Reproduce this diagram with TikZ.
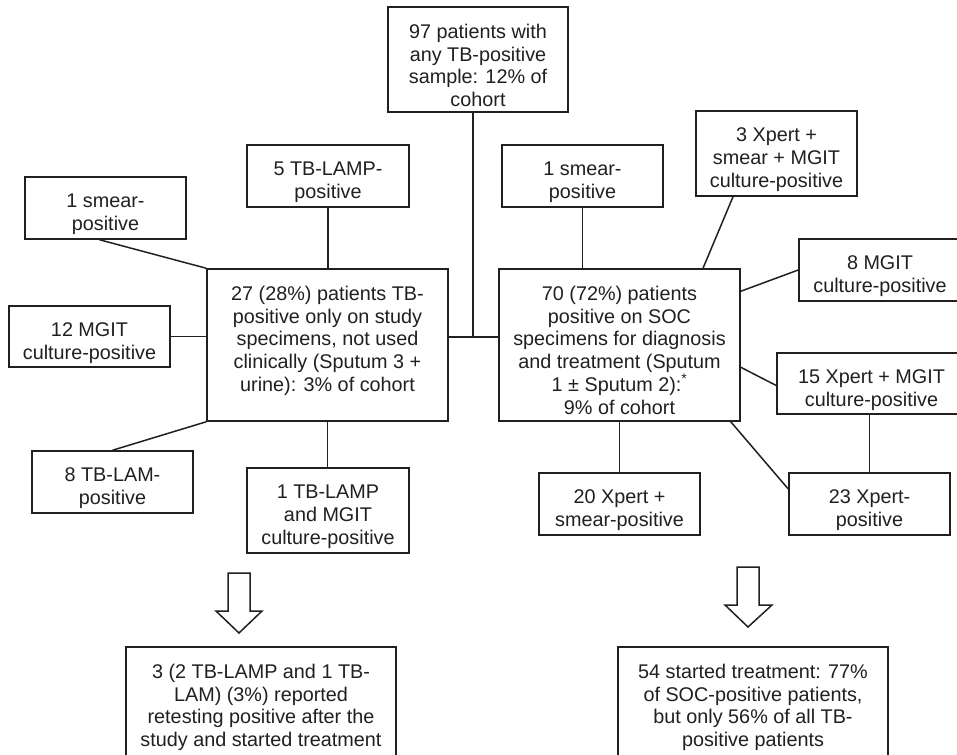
\documentclass[tikz,border=0pt]{standalone}
\usepackage{fontspec}
\setmainfont{Liberation Sans}
\usetikzlibrary{fit}
\definecolor{lc}{RGB}{35,31,32}
\newcommand\mybox[6]{%
  \node[box, fit={(#2,#3) (#4,#5)}] (#1) {};
  \node[txt] (#1-lbl) at ([yshift=-17.7pt]#1.north) {#6};}
\begin{document}
\begin{tikzpicture}[x=1pt,y=-1pt,
  box/.style={draw=lc, line width=1.5pt, inner sep=0pt, fill=white},
  txt/.style={font=\fontsize{19.8}{22.7}\selectfont, align=center, inner sep=0pt, text=lc, anchor=north},
  conn/.style={draw=lc, line width=1.5pt},
  blockarrow/.style={draw=lc, line width=1.5pt, fill=white, line join=miter}]
\useasboundingbox (0,0) rectangle (957,754);
\clip (0,0) rectangle (957,754);
\fill[white] (0,0) rectangle (957,754);

% boxes
\mybox{top}{388}{7}{568}{112}{97 patients with\\any TB-positive\\sample: 12\% of\\cohort}
\mybox{lmain}{207}{269}{448}{421}{27 (28\%) patients TB-\\positive only on study\\specimens, not used\\clinically (Sputum 3 +\\urine): 3\% of cohort}
\mybox{rmain}{499}{269}{740}{421}{70 (72\%) patients\\positive on SOC\\specimens for diagnosis\\and treatment (Sputum\\1 ± Sputum 2):\textsuperscript{*}\\9\% of cohort}
\mybox{ls}{25}{177}{186}{239}{1 smear-\\positive}
\mybox{llamp}{247}{145}{409}{207}{5 TB-LAMP-\\positive}
\mybox{lmgit}{9}{306}{170}{367}{12 MGIT\\culture-positive}
\mybox{llam}{32}{451}{193}{513}{8 TB-LAM-\\positive}
\mybox{llampm}{247}{468}{409}{553}{1 TB-LAMP\\and MGIT\\culture-positive}
\mybox{lbottom}{126}{647}{396}{770}{3 (2 TB-LAMP and 1 TB-\\LAM) (3\%) reported\\retesting positive after the\\study and started treatment}
\mybox{rs}{502}{145}{663}{207}{1 smear-\\positive}
\mybox{rx3}{696}{111}{857}{196}{3 Xpert +\\smear + MGIT\\culture-positive}
\mybox{rmgit}{799}{239}{961}{301}{8 MGIT\\culture-positive}
\mybox{rfif}{777}{353}{966}{414}{15 Xpert + MGIT\\culture-positive}
\mybox{rtwth}{789}{473}{950}{535}{23 Xpert-\\positive}
\mybox{rtwe}{539}{473}{700}{535}{20 Xpert +\\smear-positive}
\mybox{rbottom}{618}{647}{888}{770}{54 started treatment: 77\%\\of SOC-positive patients,\\but only 56\% of all TB-\\positive patients}

% connectors
\coordinate (j) at (473,337);
\draw[conn] (lmain.east |- j) -- (rmain.west |- j);
\draw[conn] (top.south -| j) -- (j);
\draw[conn] ([xshift=-6pt]ls.south) -- (lmain.north west);
\draw[conn] (llamp.south) -- (llamp.south |- lmain.north);
\draw[conn] (lmgit.east) -- (lmgit.east -| lmain.west);
\draw[conn] (llam.north) -- (lmain.south west);
\draw[conn] (lmain.south) -- (lmain.south |- llampm.north);
\draw[conn] (rs.south) -- (rs.south |- rmain.north);
\draw[conn] ([xshift=-43.5pt]rx3.south) -- ([xshift=83.5pt]rmain.north);
\draw[conn] ([yshift=-23pt]rmain.north east) -- (rmgit.west);
\draw[conn] ([yshift=-99pt]rmain.north east) -- ([yshift=-2pt]rfif.west);
\draw[conn] (rtwth.north |- rfif.south) -- (rtwth.north);
\draw[conn] ([xshift=-10pt]rmain.south east) -- ([yshift=15pt]rtwth.west);
\draw[conn] (rmain.south) -- (rmain.south |- rtwe.north);

% block arrows
\draw[blockarrow] (228,573) -- (250,573) -- (250,611) -- (262,611) -- (239,633) -- (216,611) -- (228,611) -- cycle;
\draw[blockarrow] (737,567) -- (759,567) -- (759,605) -- (772,605) -- (748,627) -- (725,605) -- (737,605) -- cycle;
\end{tikzpicture}
\end{document}
